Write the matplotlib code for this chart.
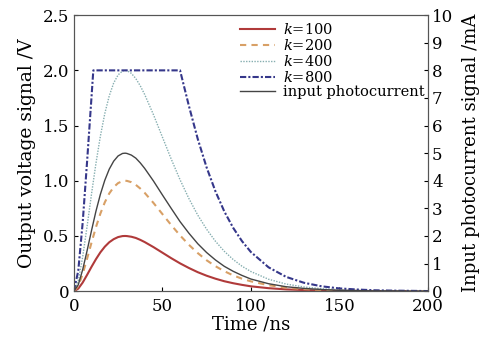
import matplotlib
matplotlib.use("Agg")
import matplotlib.pyplot as plt

plt.rcParams['font.family'] = ['DejaVu Serif']
plt.rcParams['mathtext.fontset'] = 'dejavuserif'

# time samples (ns)
t = [0, 2.5, 5, 7.5, 10, 12.5, 15, 17.5, 20, 22.5, 25, 27.5, 29, 30, 32.5, 35, 37.5, 40,
     45, 50, 55, 60, 65, 70, 75, 80, 85, 90, 95, 100, 110, 120, 130, 140, 150, 160,
     170, 180, 190, 200]

# output voltage (V)
v_k100 = [0, .023, .078, .148, .221, .290, .352, .403, .443, .471, .490, .499, .500, .499,
          .493, .482, .465, .445, .399, .349, .299, .252, .210, .172, .140, .113, .090,
          .072, .057, .044, .027, .016, .010, .006, .003, .002, .001, .001, 0, 0]
v_k200 = [0, .046, .156, .295, .441, .580, .703, .805, .885, .942, .979, .997, 1.0, .999,
          .987, .963, .930, .891, .799, .699, .599, .505, .420, .345, .280, .226, .181,
          .143, .113, .089, .054, .032, .019, .011, .006, .004, .002, .001, .001, 0]
v_k400 = [0, .092, .311, .589, .882, 1.159, 1.405, 1.610, 1.769, 1.885, 1.959, 1.994, 2.0,
          1.998, 1.973, 1.926, 1.861, 1.782, 1.598, 1.397, 1.197, 1.009, .839, .689, .561,
          .452, .361, .287, .226, .178, .108, .064, .038, .022, .013, .007, .004, .002,
          .001, .001]

# k=800 saturates at 2 V
t_k800 = [0, 2.5, 5, 7.5, 10, 11, 60, 65, 70, 75, 80, 85, 90, 95, 100, 110, 120, 130, 140,
          150, 160, 170, 180, 190, 200]
v_k800 = [0, .185, .622, 1.178, 1.763, 2.0, 2.0, 1.678, 1.379, 1.121, .904, .722, .574,
          .453, .355, .216, .129, .076, .044, .025, .015, .008, .005, .003, .001]

# input photocurrent (mA)
i_in = [0, .23, .78, 1.47, 2.20, 2.90, 3.51, 4.02, 4.42, 4.71, 4.90, 4.99, 5.0, 4.99, 4.93,
        4.82, 4.65, 4.45, 3.99, 3.49, 3.00, 2.52, 2.10, 1.72, 1.40, 1.13, .90, .72, .57,
        .44, .27, .16, .10, .06, .03, .02, .01, .01, 0, 0]

fig = plt.figure(figsize=(4.89, 3.37), dpi=100)
ax = fig.add_axes([0.151, 0.136, 0.724, 0.819])
ax2 = ax.twinx()

l1, = ax.plot(t, v_k100, color='#b03a3a', lw=1.5, label=r'$k$=100')
l2, = ax.plot(t, v_k200, color='#d8a066', lw=1.5, ls=(0, (3, 2.5)), label=r'$k$=200')
l3, = ax.plot(t, v_k400, color='#86aeb0', lw=1.0, ls=(0, (1, 1)), label=r'$k$=400')
l4, = ax.plot(t_k800, v_k800, color='#35378a', lw=1.5, ls=(0, (3, 1, 1, 1)), label=r'$k$=800')
l5, = ax2.plot(t, i_in, color='#444444', lw=1.0, label='input photocurrent')

ax.set_xlim(0, 200)
ax.set_ylim(0, 2.5)
ax2.set_ylim(0, 10)
ax.set_xticks([0, 50, 100, 150, 200])
ax.set_yticks([0, 0.5, 1.0, 1.5, 2.0, 2.5])
ax.set_yticklabels(['0', '0.5', '1.0', '1.5', '2.0', '2.5'])
ax2.set_yticks(range(0, 11))

for a in (ax, ax2):
    a.tick_params(direction='in', labelsize=12, length=3, width=0.8, pad=3)
    for s in a.spines.values():
        s.set_color('#555555')
        s.set_linewidth(0.8)
ax.tick_params(axis='x', pad=5)

ax.set_xlabel('Time /ns', fontsize=13, labelpad=0)
ax.set_ylabel('Output voltage signal /V', fontsize=13.5, labelpad=5)
ax2.set_ylabel('Input photocurrent signal /mA', fontsize=13, labelpad=6)

ax2.legend(handles=[l1, l2, l3, l4, l5], loc='upper left', bbox_to_anchor=(0.45, 1.0),
           frameon=False, fontsize=10.5, labelspacing=0.05, handlelength=2.4,
           handletextpad=0.5, borderaxespad=0.1)

fig.savefig('out.png', dpi=100)
